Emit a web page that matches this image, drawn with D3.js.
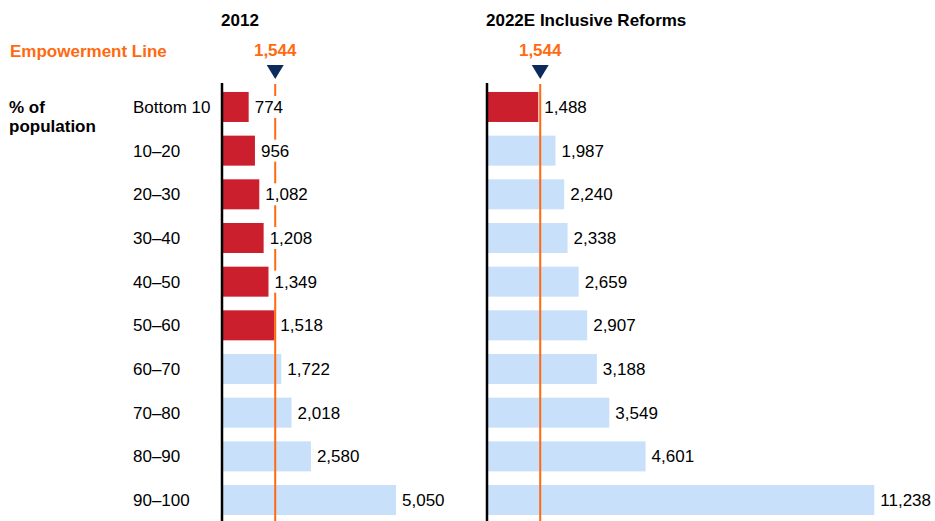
<!DOCTYPE html>
<html>
<head>
<meta charset="utf-8">
<script src="https://cdn.jsdelivr.net/npm/d3@7"></script>
<style>
  html, body { margin: 0; padding: 0; background: #fff; }
  svg { display: block; font-family: Arial, "Liberation Sans", sans-serif; }
</style>
</head>
<body>
<svg id="chart" width="935" height="521"></svg>
<script>
// Income deciles and daily consumption per capita (rupees)
const deciles = ["Bottom 10", "10–20", "20–30", "30–40", "40–50", "50–60", "60–70", "70–80", "80–90", "90–100"];
const values2012 = [774, 956, 1082, 1208, 1349, 1518, 1722, 2018, 2580, 5050];
const values2022 = [1488, 1987, 2240, 2338, 2659, 2907, 3188, 3549, 4601, 11238];
const empowermentLine = 1544;
const panelTitles = ["2012", "2022E Inclusive Reforms"];

const RED = "#cc1f2e", BLUE = "#c8e0f9", ORANGE = "#ff6a10", NAVY = "#0c2a5c";
const FS = 17;

const svg = d3.select("#chart");
const fmt = d3.format(",");

const y = d3.scaleBand().domain(deciles).range([78.3, 528.7]).padding(0.313);
const x = d3.scaleLinear().domain([0, 11238]).range([0, 387.3]);

// Left-side captions
svg.append("text").attr("x", 10).attr("y", 57)
  .attr("fill", ORANGE).attr("font-weight", "bold").attr("font-size", FS)
  .text("Empowerment Line");
const pop = svg.append("text").attr("font-weight", "bold").attr("font-size", FS).attr("fill", "#000");
pop.append("tspan").attr("x", 9).attr("y", 113).text("% of");
pop.append("tspan").attr("x", 9).attr("y", 132).text("population");

// Row labels
svg.append("g").selectAll("text").data(deciles).join("text")
  .attr("x", 133).attr("y", d => y(d) + y.bandwidth() / 2 + 6)
  .attr("font-size", FS).attr("fill", "#000").text(d => d);

const panels = [
  { origin: 222, values: values2012, title: panelTitles[0], titleX: 240, anchor: "middle" },
  { origin: 487, values: values2022, title: panelTitles[1], titleX: 486, anchor: "start" }
];

panels.forEach(p => {
  const g = svg.append("g").attr("transform", `translate(${p.origin},0)`);
  const lineX = x(empowermentLine);

  svg.append("text").attr("x", p.titleX).attr("y", 26)
    .attr("text-anchor", p.anchor).attr("font-weight", "bold").attr("font-size", FS)
    .attr("fill", "#000").text(p.title);

  // Bars: deciles below the empowerment line in red
  g.selectAll("rect.bar").data(p.values).join("rect").attr("class", "bar")
    .attr("x", 0).attr("y", (d, i) => y(deciles[i]))
    .attr("width", d => x(d)).attr("height", y.bandwidth())
    .attr("fill", d => d < empowermentLine ? RED : BLUE);

  // Empowerment line marker
  g.append("line").attr("x1", lineX).attr("x2", lineX).attr("y1", 84).attr("y2", 521)
    .attr("stroke", ORANGE).attr("stroke-width", 2);
  g.append("path")
    .attr("d", `M${lineX - 8.5},65 L${lineX + 8.5},65 L${lineX},79 Z`)
    .attr("fill", NAVY);
  g.append("text").attr("x", lineX).attr("y", 56).attr("text-anchor", "middle")
    .attr("font-weight", "bold").attr("font-size", FS).attr("fill", ORANGE)
    .text(fmt(empowermentLine));

  // Value labels on a white backing so they sit in front of the marker line
  const labels = g.selectAll("g.val").data(p.values).join("g").attr("class", "val");
  labels.each(function(d, i) {
    const lg = d3.select(this);
    const cy = y(deciles[i]) + y.bandwidth() / 2;
    const bg = lg.append("rect").attr("fill", "#fff");
    const t = lg.append("text")
      .attr("x", x(d) + 6).attr("y", cy + 6)
      .attr("font-size", FS).attr("fill", "#000").text(fmt(d));
    const bb = t.node().getBBox();
    bg.attr("x", bb.x - 1).attr("y", cy - 11).attr("width", bb.width + 2).attr("height", 22);
  });

  // Baseline axis
  g.append("line").attr("x1", 0).attr("x2", 0).attr("y1", 83).attr("y2", 521)
    .attr("stroke", "#000").attr("stroke-width", 2.5);
});
</script>
</body>
</html>
